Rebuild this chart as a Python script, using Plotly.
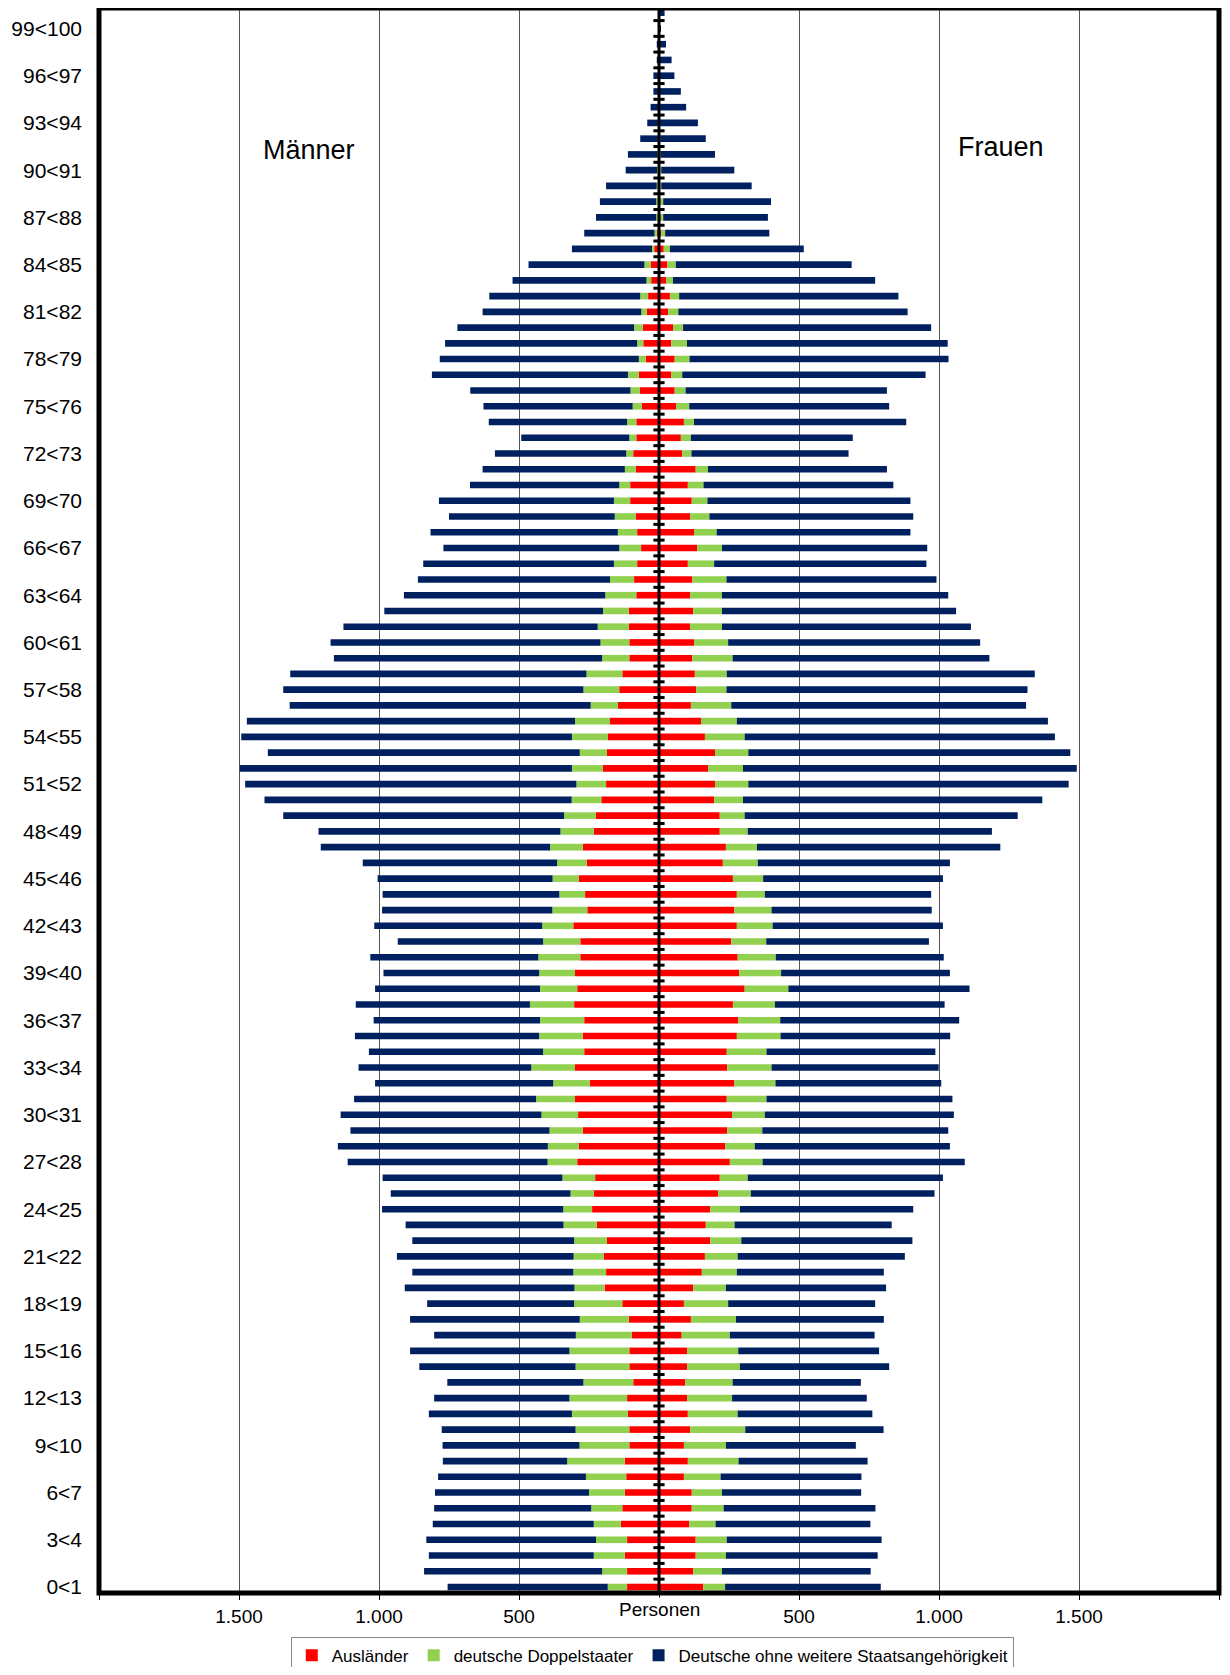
import plotly.graph_objects as go

ages = list(range(0, 101))
tick_ages = list(range(0, 100, 3))
tick_labels = [f"{a}<{a+1}" for a in tick_ages]

# Männer (age 0 .. 100)
m_auslaender = [114, 114, 122, 114, 136, 131, 122, 117, 122, 106,
                106, 111, 114, 92, 106, 106, 97, 108, 131, 194,
                189, 197, 186, 222, 239, 233, 228, 292, 286, 272,
                289, 300, 247, 300, 267, 272, 267, 303, 292, 300,
                281, 281, 306, 256, 264, 286, 258, 272, 233, 225,
                206, 189, 200, 186, 183, 175, 147, 142, 131, 106,
                106, 108, 108, 81, 89, 78, 64, 78, 83, 103,
                103, 83, 92, 81, 81, 61, 69, 72, 47, 56,
                58, 44, 39, 28, 30, 17, 6, 4, 4, 3,
                3, 2, 2, 1, 1, 1, 1, 0, 0, 0, 0]
m_doppel = [69, 89, 111, 111, 97, 111, 128, 144, 206, 178,
            192, 200, 206, 178, 192, 214, 200, 175, 172, 108,
            117, 108, 117, 119, 103, 83, 117, 106, 111, 119,
            131, 139, 131, 156, 147, 156, 158, 158, 133, 128,
            150, 133, 111, 125, 92, 94, 106, 117, 119, 114,
            106, 106, 111, 97, 128, 125, 97, 128, 128, 97,
            103, 111, 92, 111, 86, 83, 78, 69, 75, 58,
            39, 39, 25, 25, 33, 33, 33, 39, 25, 22,
            31, 19, 28, 17, 22, 8, 10, 6, 6, 5,
            4, 3, 2, 2, 1, 1, 0, 0, 0, 0, 0]
m_deutsche = [572, 636, 589, 606, 575, 561, 550, 528, 444, 489,
              478, 511, 483, 486, 558, 569, 506, 606, 525, 606,
              575, 631, 578, 564, 647, 642, 642, 714, 750, 711,
              717, 650, 636, 617, 622, 658, 594, 622, 589, 556,
              600, 519, 600, 608, 631, 625, 694, 819, 864, 1003,
              1097, 1183, 1186, 1114, 1181, 1172, 1075, 1072, 1058, 958,
              964, 908, 781, 719, 686, 681, 628, 669, 592, 625,
              533, 508, 469, 386, 494, 533, 572, 700, 711, 686,
              631, 567, 539, 478, 414, 286, 251, 215, 201, 181,
              112, 106, 63, 39, 28, 18, 19, 8, 8, 3, 2]

# Frauen (age 0 .. 100)
f_auslaender = [158, 122, 131, 131, 108, 117, 117, 89, 103, 89,
                111, 103, 100, 94, 100, 100, 81, 114, 89, 122,
                153, 164, 183, 167, 183, 211, 217, 253, 236, 244,
                261, 242, 269, 244, 242, 278, 283, 264, 306, 286,
                281, 258, 278, 269, 278, 264, 228, 239, 217, 217,
                197, 200, 175, 200, 164, 150, 114, 133, 128, 119,
                125, 111, 122, 111, 119, 103, 136, 125, 111, 117,
                103, 131, 83, 78, 89, 61, 56, 44, 56, 44,
                50, 33, 39, 25, 30, 17, 8, 5, 5, 3,
                3, 3, 2, 2, 2, 1, 1, 1, 1, 0, 0]
f_doppel = [78, 103, 108, 111, 94, 114, 108, 131, 181, 150,
            197, 178, 161, 169, 189, 183, 172, 161, 158, 117,
            125, 117, 111, 103, 106, 117, 100, 117, 106, 125,
            117, 142, 147, 158, 142, 156, 150, 150, 156, 150,
            136, 125, 128, 133, 100, 108, 125, 111, 100, 89,
            103, 119, 125, 119, 142, 128, 144, 108, 114, 144,
            122, 114, 103, 114, 122, 94, 89, 81, 69, 56,
            56, 44, 33, 36, 36, 47, 39, 39, 53, 56,
            36, 36, 33, 25, 30, 22, 14, 10, 10, 5,
            5, 3, 3, 2, 2, 1, 1, 1, 0, 0, 0]
f_deutsche = [556, 531, 542, 553, 553, 542, 497, 503, 461, 464,
              494, 481, 481, 458, 533, 503, 517, 528, 525, 572,
              525, 597, 611, 561, 619, 656, 697, 722, 697, 664,
              675, 664, 592, 597, 603, 606, 639, 606, 647, 603,
              600, 581, 608, 572, 594, 642, 686, 869, 872, 975,
              1069, 1144, 1192, 1150, 1108, 1111, 1053, 1075, 1100, 917,
              900, 889, 836, 808, 750, 758, 733, 692, 728, 725,
              678, 639, 561, 578, 758, 714, 719, 869, 925, 931,
              886, 819, 783, 722, 628, 478, 372, 374, 385, 323,
              261, 194, 162, 135, 93, 76, 53, 43, 24, 6, 20]

series = [
    ("Ausländer", "#FF0000", m_auslaender, f_auslaender),
    ("deutsche Doppelstaater", "#92D050", m_doppel, f_doppel),
    ("Deutsche ohne weitere Staatsangehörigkeit", "#002060", m_deutsche, f_deutsche),
]

fig = go.Figure()
for name, color, men, women in series:
    fig.add_trace(go.Bar(
        y=ages, x=[-v for v in men], orientation="h", name=name,
        marker=dict(color=color, line=dict(width=0)), width=0.42,
        legendgroup=name, showlegend=False,
        customdata=men, hovertemplate="Männer %{y}: %{customdata}<extra>" + name + "</extra>"))
for name, color, men, women in series:
    fig.add_trace(go.Bar(
        y=ages, x=women, orientation="h", name=name,
        marker=dict(color=color, line=dict(width=0)), width=0.42,
        legendgroup=name, showlegend=True,
        hovertemplate="Frauen %{y}: %{x}<extra>" + name + "</extra>"))

# central axis line with cross ticks between age groups
fig.add_shape(type="line", x0=0, x1=0, y0=-0.4, y1=100.3, xref="x", yref="y",
              line=dict(color="black", width=3), layer="above")
fig.add_trace(go.Scatter(
    x=[0] * 101, y=[a + 0.5 for a in range(-1, 100)], mode="markers",
    marker=dict(symbol="line-ew", size=8, line=dict(width=3, color="black")),
    showlegend=False, hoverinfo="skip"))

x_ticks = [-2000, -1500, -1000, -500, 0, 500, 1000, 1500, 2000]
x_ticktext = ["", "1.500", "1.000", "500", "", "500", "1.000", "1.500", ""]

fig.update_layout(
    width=1214, height=1659,
    margin=dict(l=91, r=3, t=0, b=74, autoexpand=False),
    paper_bgcolor="white", plot_bgcolor="white",
    barmode="relative",
    font=dict(family="Liberation Sans, Arial, sans-serif", size=18, color="black"),
    xaxis=dict(range=[-2000, 2000], tickvals=x_ticks, ticktext=x_ticktext,
               showgrid=True, gridcolor="#555555", gridwidth=1,
               zeroline=False, ticks="outside", ticklen=6, tickcolor="black",
               showline=False, fixedrange=True, tickfont=dict(size=19),
               automargin=False),
    yaxis=dict(range=[-0.38, 100.3], tickvals=tick_ages, ticktext=tick_labels,
               showgrid=False, zeroline=False, ticks="", showline=False,
               tickfont=dict(size=21), automargin=False, ticklabelstandoff=16),
    legend=dict(orientation="h", x=0.494, xanchor="center", y=-0.0275, yanchor="top",
                bordercolor="#888888", borderwidth=1, font=dict(size=17),
                itemwidth=30, traceorder="normal"),
    hovermode="closest",
)

# plot frame
fig.add_shape(type="rect", xref="paper", yref="paper", x0=0, x1=1, y0=0, y1=1,
              line=dict(color="black", width=5), layer="above")

fig.add_annotation(text="Männer", x=-1250, y=91.3, xref="x", yref="y",
                   showarrow=False, font=dict(size=27))
fig.add_annotation(text="Frauen", x=1220, y=91.5, xref="x", yref="y",
                   showarrow=False, font=dict(size=27))
fig.add_annotation(text="Personen", x=0, y=0, xref="x", yref="paper", yshift=-16,
                   yanchor="middle", showarrow=False, font=dict(size=19),
                   bgcolor="white")

fig.write_html("out.html")
